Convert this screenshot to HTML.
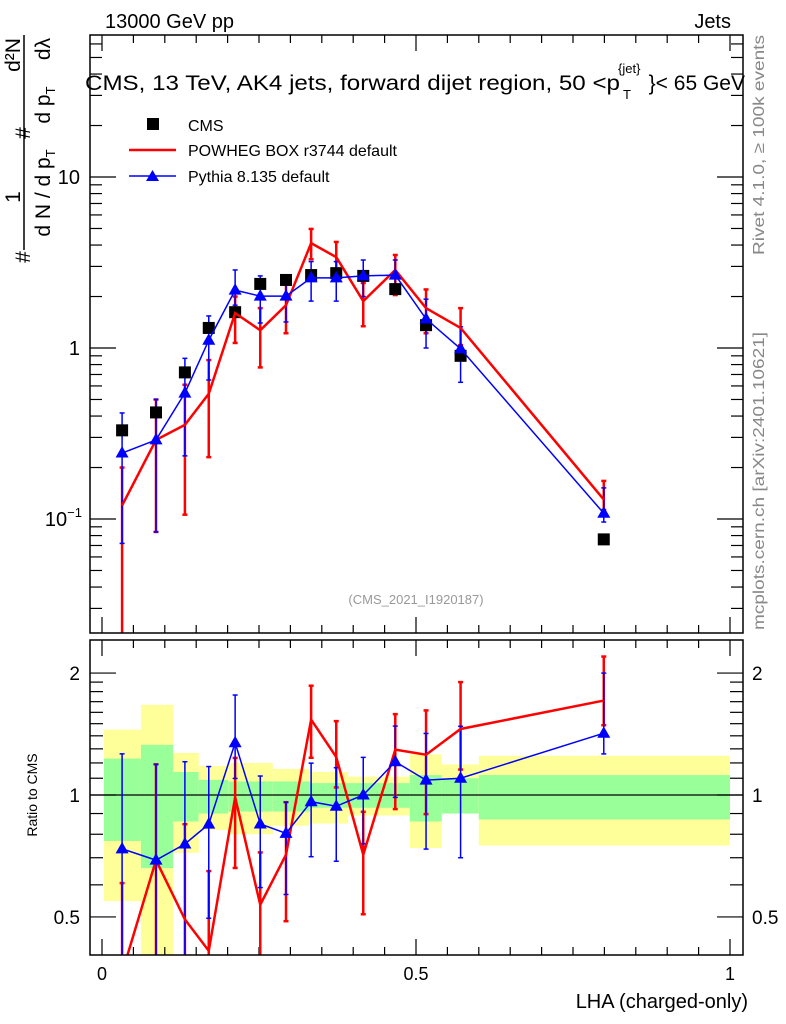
<!DOCTYPE html>
<html><head><meta charset="utf-8"><style>
body{margin:0;background:#fff}
svg{display:block;font-family:"Liberation Sans",sans-serif}
</style></head><body>
<svg id="c" width="786" height="1024" viewBox="0 0 786 1024">
<g id="bands"></g><g id="grid"></g><g id="marks"></g>
<rect x="90" y="35" width="653" height="598" fill="none" stroke="#000" stroke-width="1.5"/>
<rect x="90" y="640" width="653" height="315" fill="none" stroke="#000" stroke-width="1.5"/>
<text x="105" y="28" font-size="20">13000 GeV pp</text>
<text x="731" y="28" font-size="20" text-anchor="end">Jets</text>
<g>
<text x="85" y="90" font-size="21" textLength="535" lengthAdjust="spacingAndGlyphs">CMS, 13 TeV, AK4 jets, forward dijet region, 50 &lt;p</text>
<text x="618" y="73" font-size="13">{jet}</text>
<text x="623" y="99" font-size="13">T</text>
<text x="745" y="90" font-size="21" text-anchor="end">}&lt; 65 GeV</text>
</g>
<g>
<rect x="147" y="118" width="12" height="12" fill="#000"/>
<text x="188" y="131" font-size="16">CMS</text>
<line x1="129" y1="150" x2="176" y2="150" stroke="red" stroke-width="2.5"/>
<text x="188" y="156" font-size="16">POWHEG BOX r3744 default</text>
<line x1="129" y1="176" x2="176" y2="176" stroke="blue" stroke-width="1.5"/>
<polygon points="152.5,170 146,181 159,181" fill="blue"/>
<text x="188" y="182" font-size="16">Pythia 8.135 default</text>
</g>
<g font-size="21" text-anchor="middle">
<line x1="24" y1="35" x2="24" y2="250" stroke="#000" stroke-width="1.5"/>
<text transform="translate(30,257) rotate(-90)">#</text>
<text transform="translate(50,193) rotate(-90)">d N / d p<tspan font-size="13" dy="5">T</tspan></text>
<text transform="translate(20,197) rotate(-90)">1</text>
<text transform="translate(30,133) rotate(-90)">#</text>
<text transform="translate(50,105) rotate(-90)">d p<tspan font-size="13" dy="5">T</tspan></text>
<text transform="translate(20,55) rotate(-90)">d²N</text>
<text transform="translate(50,49) rotate(-90)">dλ</text>
</g>
<text transform="translate(764,255) rotate(-90)" font-size="16" fill="#888" textLength="220" lengthAdjust="spacingAndGlyphs">Rivet 4.1.0, ≥ 100k events</text>
<text transform="translate(764,630) rotate(-90)" font-size="16" fill="#888" textLength="298" lengthAdjust="spacingAndGlyphs">mcplots.cern.ch [arXiv:2401.10621]</text>
<text x="416" y="604" font-size="13" fill="#999" text-anchor="middle">(CMS_2021_I1920187)</text>
<text transform="translate(37,795) rotate(-90)" font-size="14" text-anchor="middle">Ratio to CMS</text>
<text x="748" y="1008" font-size="20" text-anchor="end">LHA (charged-only)</text>
</svg>
<script>
const xCenters=[0.032,0.086,0.132,0.170,0.212,0.252,0.293,0.333,0.373,0.416,0.467,0.516,0.571,0.799];
const cmsVals=[0.33,0.42,0.72,1.31,1.62,2.37,2.5,2.67,2.74,2.64,2.21,1.36,0.9,0.076];
const powhegVals=[0.12,0.29,0.355,0.54,1.6,1.27,1.78,4.1,3.4,1.88,2.86,1.71,1.31,0.13];
const powhegUp=[0.2,0.5,0.61,0.85,2.0,1.71,2.4,4.97,4.17,2.4,3.5,2.2,1.71,0.167];
const powhegLo=[0.001,0.084,0.106,0.23,1.07,0.77,1.22,3.3,2.86,1.34,2.04,1.22,1.04,0.113];
const pythiaVals=[0.243,0.29,0.545,1.11,2.18,2.01,2.01,2.57,2.57,2.64,2.67,1.48,0.99,0.108];
const pythiaUp=[0.417,0.5,0.87,1.54,2.86,2.64,2.4,3.2,3.2,3.27,3.27,1.93,1.33,0.152];
const pythiaLo=[0.072,0.084,0.234,0.65,1.78,1.4,1.42,1.88,1.88,2.0,2.18,1.0,0.63,0.096];
const bandEdges=[0.003,0.062,0.113,0.154,0.201,0.231,0.272,0.331,0.392,0.490,0.541,0.600,1.0];
const yellowUp=[1.45,1.67,1.27,1.18,1.2,1.2,1.16,1.14,1.11,1.26,1.19,1.25];
const yellowLo=[0.547,0.3,0.72,0.82,0.8,0.8,0.84,0.85,0.89,0.74,0.9,0.75];
const greenUp=[1.23,1.33,1.14,1.09,1.08,1.08,1.08,1.07,1.07,1.12,1.10,1.12];
const greenLo=[0.77,0.66,0.86,0.9,0.91,0.91,0.91,0.93,0.93,0.86,0.9,0.87];
const xTicks=[0,0.5,1];
const xTickLabels=["0","0.5","1"];
const rTicks=[2,1,0.5];
const rTickLabels=["2","1","0.5"];

const NS="http://www.w3.org/2000/svg";
const X=v=>102+628*v;
const Y=v=>348-171*Math.log10(v);
const R=v=>795-405*Math.log10(v);
const clipT=y=>Math.max(35,Math.min(633,y));
const clipR=y=>Math.max(640,Math.min(955,y));
function mk(p,tag,at){const e=document.createElementNS(NS,tag);for(const k in at)e.setAttribute(k,at[k]);document.getElementById(p).appendChild(e);return e;}

for(let i=0;i<yellowUp.length;i++){
  const x0=X(bandEdges[i]),x1=X(bandEdges[i+1]);
  let e=mk('bands','rect',{x:x0,y:clipR(R(yellowUp[i])),width:x1-x0,height:clipR(R(yellowLo[i]))-clipR(R(yellowUp[i])),fill:'#ffff99'});
  
  
  e=mk('bands','rect',{x:x0,y:clipR(R(greenUp[i])),width:x1-x0,height:clipR(R(greenLo[i]))-clipR(R(greenUp[i])),fill:'#99ff99'});
  
  
}
let ln=mk('grid','line',{x1:90,x2:743,y1:R(1),y2:R(1),stroke:'#000','stroke-width':1.2});



for(let k=0;k<=20;k++){
  const v=k*0.05,x=X(v);if(x>743)break;
  const L=(k%10==0)?16:8;
  for(const [yb,dir] of [[633,-1],[35,1],[955,-1],[640,1]]){
    const t=mk('grid','line',{x1:x,x2:x,y1:yb,y2:yb+dir*L,stroke:'#000','stroke-width':1.2});
    
    
  }
}
xTicks.forEach((v,i)=>{const t=mk('grid','text',{x:X(v),y:980,'font-size':18,'text-anchor':'middle'});t.textContent=xTickLabels[i];
  
  });
for(let d=-2;d<=1;d++)for(let m=1;m<=9;m++){
  const v=m*Math.pow(10,d),y=Y(v);if(y<35||y>633)continue;
  const L=m==1?26:12;
  for(const [xb,dir] of [[90,1],[743,-1]]){
    const t=mk('grid','line',{x1:xb,x2:xb+dir*L,y1:y,y2:y,stroke:'#000','stroke-width':1.2});
    
    
  }
}
[['10',10],['1',1]].forEach(([s,v])=>{const t=mk('grid','text',{x:80,y:Y(v)+7,'font-size':20,'text-anchor':'end'});t.textContent=s;
  
  });
{const t=mk('grid','text',{x:82,y:Y(0.1)+7,'font-size':20,'text-anchor':'end'});t.innerHTML='10<tspan font-size="13" dy="-9">−1</tspan>';
  
  }
[0.5,0.6,0.7,0.8,0.9,1,1.1,1.2,1.3,1.4,1.5,1.6,1.7,1.8,1.9,2].forEach(v=>{
  const y=R(v),L=(v==0.5||v==1||v==2)?26:13;
  for(const [xb,dir] of [[90,1],[743,-1]]){
    const t=mk('grid','line',{x1:xb,x2:xb+dir*L,y1:y,y2:y,stroke:'#000','stroke-width':1.2});
    
    
  }
});
rTicks.forEach((v,i)=>{
  let t=mk('grid','text',{x:80,y:R(v)+7,'font-size':19,'text-anchor':'end'});t.textContent=rTickLabels[i];
  
  
  t=mk('grid','text',{x:752,y:R(v)+7,'font-size':19});t.textContent=rTickLabels[i];
  
  
});

function err(x,y1,y2,col,w,name){
  const e=mk('marks','line',{x1:x,x2:x,y1:y1,y2:y2,stroke:col,'stroke-width':w});
  
  
  [y1,y2].forEach(y=>{if(y>35.5&&y<954&&!(y>632&&y<641)){const c=mk('marks','line',{x1:x-2.5,x2:x+2.5,y1:y,y2:y,stroke:col,'stroke-width':w});
    
    }});
}
function tri(x,y,name){const p=mk('marks','polygon',{points:`${x},${y-7} ${x-6.5},${y+4.5} ${x+6.5},${y+4.5}`,fill:'blue'});
  
  }
function poly(pts,col,w,name){const p=mk('marks','polyline',{points:pts.map(p=>p.join(',')).join(' '),fill:'none',stroke:col,'stroke-width':w,'stroke-linejoin':'miter'});
  
  }

xCenters.forEach((v,i)=>err(X(v),clipT(Y(powhegUp[i])),clipT(Y(powhegLo[i])),'red',2.5,'powheg-error-bar'));
xCenters.forEach((v,i)=>err(X(v),clipT(Y(pythiaUp[i])),clipT(Y(pythiaLo[i])),'blue',1.5,'pythia-error-bar'));
xCenters.forEach((v,i)=>{const r=mk('marks','rect',{x:X(v)-6,y:Y(cmsVals[i])-6,width:12,height:12,fill:'#000'});
  
  });
poly(xCenters.map((v,i)=>[X(v),Y(powhegVals[i])]),'red',2.5,'powheg-line');
poly(xCenters.map((v,i)=>[X(v),Y(pythiaVals[i])]),'blue',1.5,'pythia-line');
xCenters.forEach((v,i)=>tri(X(v),Y(pythiaVals[i]),'pythia-point'));

xCenters.forEach((v,i)=>err(X(v),clipR(R(powhegUp[i]/cmsVals[i])),clipR(R(powhegLo[i]/cmsVals[i])),'red',2.5,'powheg-ratio-error'));
xCenters.forEach((v,i)=>err(X(v),clipR(R(pythiaUp[i]/cmsVals[i])),clipR(R(pythiaLo[i]/cmsVals[i])),'blue',1.5,'pythia-ratio-error'));
const cp=mk('marks','clipPath',{id:'rc'});const cr=document.createElementNS(NS,'rect');
cr.setAttribute('x',90);cr.setAttribute('y',640);cr.setAttribute('width',653);cr.setAttribute('height',315);cp.appendChild(cr);
const g=mk('marks','g',{'clip-path':'url(#rc)',id:'rg'});


poly(xCenters.map((v,i)=>[X(v),R(powhegVals[i]/cmsVals[i])]),'red',2.5,'powheg-ratio-line');
let lastP=document.getElementById('marks').lastChild;g.appendChild(lastP);
poly(xCenters.map((v,i)=>[X(v),R(pythiaVals[i]/cmsVals[i])]),'blue',1.5,'pythia-ratio-line');
lastP=document.getElementById('marks').lastChild;g.appendChild(lastP);
xCenters.forEach((v,i)=>{const y=R(pythiaVals[i]/cmsVals[i]);if(y>640&&y<955)tri(X(v),y,'pythia-ratio-point');});
</script>
</body></html>
